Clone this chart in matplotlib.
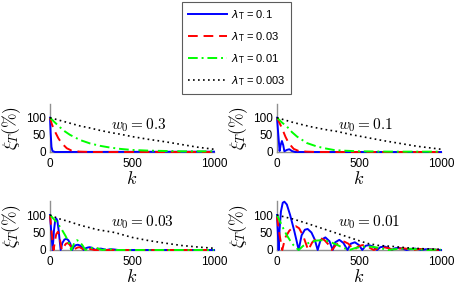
import matplotlib
matplotlib.use("Agg")
import matplotlib.pyplot as plt
from matplotlib.lines import Line2D

plt.rcParams['font.family'] = ['Liberation Sans', 'DejaVu Sans']
plt.rcParams['mathtext.fontset'] = 'cm'

# ---------------- data (k, xi_T %) ----------------
lambda_labels = ["0.1", "0.03", "0.01", "0.003"]
w0_labels = ["0.3", "0.1", "0.03", "0.01"]
x_ticks = [0, 500, 1000]
y_ticks = [0, 50, 100]

# panel w0 = 0.3
blue_w03 = [(0, 100), (4, 55), (9, 15), (15, 3), (30, 0), (1000, 1)]
red_w03 = [(0, 100), (12, 80), (30, 60), (51, 40), (71, 26), (102, 11), (132, 4), (180, 1), (250, 0), (1000, 0)]
green_w03 = [(0, 100), (30, 86), (61, 72), (91, 60), (122, 50), (183, 35), (244, 25), (305, 18), (366, 13),
             (430, 9), (500, 6), (600, 4), (700, 3), (800, 2), (900, 2), (1000, 2)]
black_w03 = [(0, 100), (61, 92), (122, 84), (183, 76), (244, 70), (305, 63), (366, 57), (427, 52), (500, 45),
             (600, 37), (700, 30), (800, 22), (900, 14), (1000, 8)]

# panel w0 = 0.1
blue_w01 = [(0, 100), (8, 50), (16, 3), (22, 20), (30, 32), (38, 20), (45, 2), (60, 6), (75, 8), (90, 3),
            (110, 0), (1000, 0)]
red_w01 = [(0, 100), (15, 85), (30, 70), (51, 45), (71, 26), (102, 9), (132, 3), (180, 1), (250, 0), (1000, 0)]
green_w01 = [(0, 100), (30, 86), (61, 74), (91, 58), (122, 45), (183, 26), (244, 16), (300, 10), (345, 6),
             (400, 4), (500, 2), (700, 1), (1000, 1)]
black_w01 = [(0, 100), (100, 86), (203, 74), (300, 65), (366, 60), (450, 51), (550, 42), (650, 33), (750, 25),
             (850, 17), (950, 11), (1000, 8)]

# panel w0 = 0.03
blue_w003 = [(0, 100), (8, 50), (16, 0), (24, 55), (31, 82), (38, 90), (45, 84), (53, 55), (65, 0), (75, 20),
             (88, 30), (100, 32), (112, 28), (124, 18), (135, 0), (145, 9), (158, 14), (170, 15), (182, 13),
             (194, 8), (205, 0), (218, 5), (230, 7), (240, 8), (252, 7), (264, 4), (275, 0), (290, 3), (310, 4),
             (330, 2), (345, 0), (365, 2), (380, 2), (400, 1), (415, 0), (1000, 0)]
red_w003 = [(0, 100), (10, 50), (22, 0), (30, 25), (38, 45), (48, 52), (56, 42), (64, 22), (72, 0), (85, 10),
            (97, 18), (110, 20), (122, 14), (132, 6), (140, 0), (155, 4), (168, 7), (180, 8), (192, 5), (210, 0),
            (225, 2), (240, 3), (255, 2), (270, 0), (1000, 0)]
green_w003 = [(0, 100), (40, 80), (70, 60), (95, 40), (115, 20), (130, 0), (148, 20), (165, 28), (180, 24),
              (200, 12), (215, 0), (240, 4), (255, 6), (270, 7), (290, 5), (305, 2), (320, 0), (350, 2),
              (375, 2), (400, 0), (1000, 0)]
black_w003 = [(0, 100), (50, 90), (110, 82), (190, 70), (290, 58), (394, 50), (500, 36), (600, 27), (711, 19),
              (800, 13), (914, 8), (1000, 5)]

# panel w0 = 0.01
blue_w001 = [(0, 100), (5, 50), (10, 0), (16, 60), (24, 110), (35, 135), (45, 138), (60, 130), (80, 100),
             (105, 55), (120, 25), (132, 0), (150, 42), (170, 58), (187, 60), (210, 50), (230, 30), (248, 0),
             (265, 28), (295, 36), (320, 25), (340, 0), (355, 22), (380, 29), (405, 20), (430, 0), (450, 18),
             (475, 22), (500, 14), (520, 0), (540, 12), (560, 14), (585, 10), (610, 0), (630, 8), (655, 10),
             (680, 6), (700, 0), (720, 5), (745, 6), (770, 3), (790, 0), (815, 3), (840, 4), (865, 2), (880, 0),
             (905, 2), (930, 2), (960, 1), (1000, 0)]
red_w001 = [(0, 95), (15, 45), (32, 0), (50, 35), (75, 55), (100, 66), (115, 68), (135, 62), (160, 40), (190, 0),
            (215, 22), (240, 32), (265, 34), (290, 28), (315, 15), (335, 0), (360, 15), (385, 22), (410, 24),
            (435, 18), (455, 8), (470, 0), (495, 10), (520, 14), (545, 12), (570, 5), (590, 0), (620, 6),
            (650, 8), (680, 5), (710, 0), (740, 4), (770, 5), (800, 3), (830, 0), (870, 3), (910, 2), (950, 1),
            (1000, 0)]
green_w001 = [(0, 100), (20, 80), (40, 60), (60, 42), (80, 27), (100, 14), (120, 5), (132, 0), (160, 12),
              (200, 22), (240, 27), (280, 28), (320, 24), (360, 16), (400, 7), (440, 0), (480, 6), (520, 9),
              (560, 10), (600, 8), (640, 4), (680, 0), (730, 3), (780, 4), (830, 3), (880, 1), (920, 0),
              (960, 1), (1000, 1)]
black_w001 = [(0, 100), (50, 94), (102, 88), (183, 76), (305, 57), (427, 38), (549, 19), (620, 13), (711, 10),
              (800, 6), (914, 3), (1000, 2)]

panels = [
    (w0_labels[0], [blue_w03, red_w03, green_w03, black_w03]),
    (w0_labels[1], [blue_w01, red_w01, green_w01, black_w01]),
    (w0_labels[2], [blue_w003, red_w003, green_w003, black_w003]),
    (w0_labels[3], [blue_w001, red_w001, green_w001, black_w001]),
]

styles = [
    dict(color='#0000ff', linestyle='-', linewidth=1.4),
    dict(color='#ff0000', linestyle=(0, (5, 3)), linewidth=1.4),
    dict(color='#00ff00', linestyle=(0, (5, 2, 1, 2)), linewidth=1.4),
    dict(color='black', linestyle=(0, (1, 2)), linewidth=1.2),
]

W, H = 454, 288
fig = plt.figure(figsize=(W / 100, H / 100), dpi=100)

# axes rectangles in pixels: (left, top, width, height)
rects = [(50, 104, 164, 48), (277, 104, 164, 48), (50, 201, 164, 49), (277, 201, 164, 49)]

for (label, series), (l, t, w, h) in zip(panels, rects):
    ax = fig.add_axes([l / W, 1 - (t + h) / H, w / W, h / H])
    for data, st in zip(series, styles):
        ks = [p[0] for p in data]
        vs = [p[1] for p in data]
        ax.plot(ks, vs, clip_on=False, zorder=3, **st)
    ax.set_xlim(0, 1000)
    ax.set_ylim(0, 140)
    ax.set_xticks(x_ticks)
    ax.set_yticks(y_ticks)
    ax.tick_params(length=0, labelsize=8.5, pad=3)
    ax.tick_params(axis='x', pad=4)
    for s in ['top', 'right']:
        ax.spines[s].set_visible(False)
    for s in ['left', 'bottom']:
        ax.spines[s].set_color('#909090')
        ax.spines[s].set_linewidth(1.0)
    ax.set_xlabel(r'$k$', fontsize=13, labelpad=1)
    ax.set_ylabel(r'$\xi_T(\%)$', fontsize=12.5, labelpad=2)
    ax.text(370, 78, r'$w_0 = %s$' % label, fontsize=11, va='center', ha='left')

handles = [Line2D([], [], **st) for st in styles]
labels = [r'$\lambda_\mathrm{T}$ = %s' % v for v in lambda_labels]
leg = fig.legend(handles, labels, loc='center', bbox_to_anchor=(236.5 / W, 1 - 48 / H),
                 fontsize=8, handlelength=3.5, handletextpad=0.4, labelspacing=0.75,
                 borderpad=0.55, fancybox=False, frameon=True)
leg.get_frame().set_edgecolor('#333333')
leg.get_frame().set_linewidth(0.8)
for tx in leg.get_texts():
    tx.set_math_fontfamily('dejavusans')

fig.savefig('out.png', dpi=100)
